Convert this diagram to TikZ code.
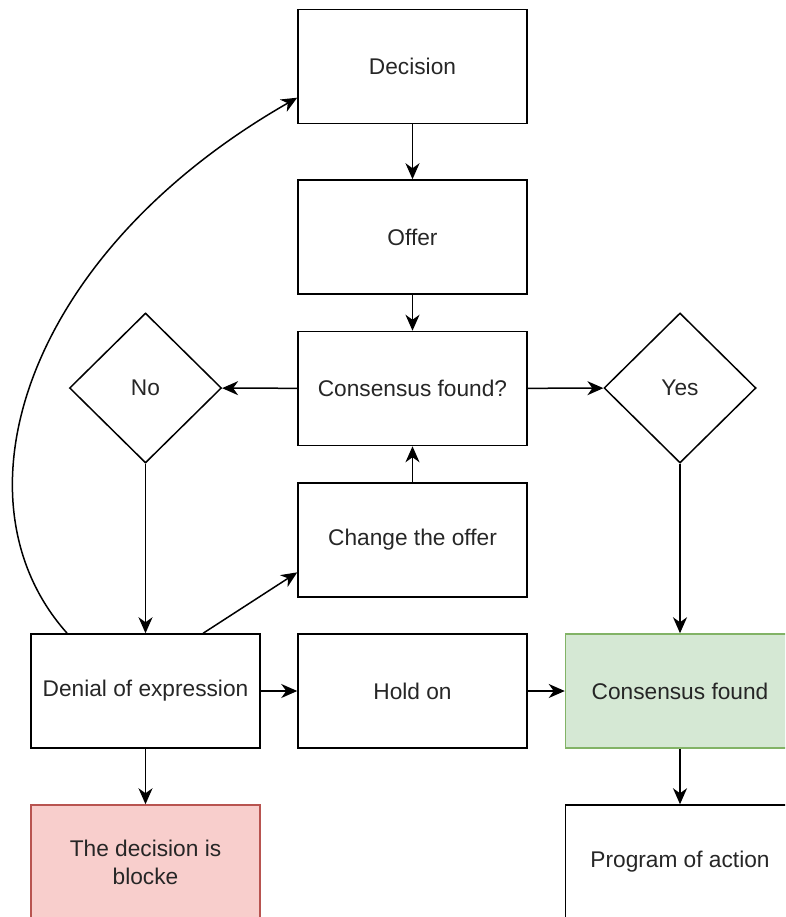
\documentclass[tikz,border=0pt]{standalone}
\usepackage{fontspec}
\setmainfont{Liberation Sans}
\usetikzlibrary{shapes.geometric,arrows.meta,calc}
\definecolor{txt}{HTML}{262626}
\definecolor{gfill}{HTML}{D5E8D4}
\definecolor{gline}{HTML}{82B366}
\definecolor{rfill}{HTML}{F8CECC}
\definecolor{rline}{HTML}{B85450}
\tikzset{
  box/.style={draw=black, line width=1.5pt, rectangle, minimum width=229pt, minimum height=114pt, inner sep=0pt, text=txt, font=\fontsize{22.7}{28}\selectfont, align=center},
  dia/.style={draw=black, line width=1.5pt, diamond, minimum width=152pt, minimum height=150pt, inner sep=0pt, text=txt, font=\fontsize{22.7}{28}\selectfont},
  conn/.style={line width=1.5pt, -{Stealth[length=16pt,width=14pt,inset=5pt]}}
}
\begin{document}
\begin{tikzpicture}[x=1pt,y=-1pt]
\useasboundingbox (0,0) rectangle (785,917);
\clip (0,0) rectangle (785,917);
\node[box] (dec) at (412.5,66.5) {Decision};
\node[box] (off) at (412.5,237) {Offer};
\node[box] (cf) at (412.5,388.5) {Consensus found?};
\node[box] (chg) at (412.5,540) {Change the offer};
\node[box] (den) at (145.5,691) {Denial of expression};
\node[box] (hold) at (412.5,691) {Hold on};
\node[box, fill=gfill, draw=gline] (grn) at (680,691) {Consensus found};
\node[box, fill=rfill, draw=rline] (red) at (145.5,862) {The decision is\\blocke};
\node[box] (prog) at (680,862) {Program of action};
\node[dia] (no) at (145.5,388) {No};
\node[dia] (yes) at (680,388) {Yes};
\coordinate (denA) at ($(den.north west)!0.16!(den.north east)$);
\coordinate (denB) at ($(den.north west)!0.75!(den.north east)$);
\coordinate (decL) at ($(dec.north west)!0.77!(dec.south west)$);
\coordinate (chgL) at ($(chg.north west)!0.78!(chg.south west)$);
\draw[conn] (dec) -- (off);
\draw[conn] (off) -- (cf);
\draw[conn] (cf) -- (no);
\draw[conn] (cf) -- (yes);
\draw[conn] (chg) -- (cf);
\draw[conn] (no) -- (den);
\draw[conn] (yes) -- (grn);
\draw[conn] (den) -- (hold);
\draw[conn] (hold) -- (grn);
\draw[conn] (den) -- (red);
\draw[conn] (grn) -- (prog);
\draw[conn] (denB) -- (chgL);
\draw[conn] (denA) .. controls (-52,500) and (24,254) .. (decL);
\end{tikzpicture}
\end{document}
